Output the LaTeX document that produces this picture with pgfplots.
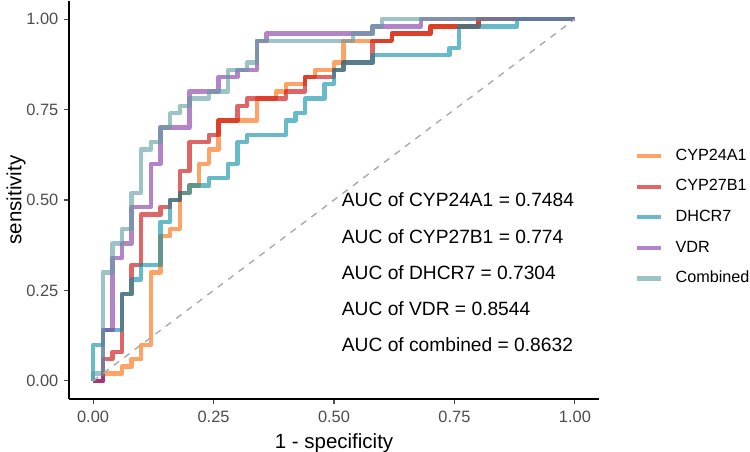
\documentclass[border=0pt]{standalone}
\usepackage{fontspec}
\setmainfont{Liberation Sans}
\usepackage{pgfplots}
\pgfplotsset{compat=1.18}
\definecolor{cOr}{RGB}{255,100,0}
\definecolor{cRd}{RGB}{200,0,0}
\definecolor{cTl}{RGB}{0,140,165}
\definecolor{cPu}{RGB}{130,50,165}
\definecolor{cCb}{RGB}{90,155,160}
\definecolor{tickgray}{RGB}{77,77,77}
\definecolor{diaggray}{RGB}{170,170,170}
\begin{document}
\begin{tikzpicture}
\begin{axis}[
  scale only axis, width=530bp, height=398bp,
  xmin=-0.05, xmax=1.05, ymin=-0.05, ymax=1.05,
  axis lines=left,
  axis line style={-, black, line width=1.1bp},
  xtick={0,0.25,0.5,0.75,1}, xticklabels={0.00,0.25,0.50,0.75,1.00},
  ytick={0,0.25,0.5,0.75,1}, yticklabels={0.00,0.25,0.50,0.75,1.00},
  tick align=outside, major tick length=5bp,
  tick style={tickgray, line width=1.1bp},
  tick label style={font=\fontsize{16.4bp}{19bp}\selectfont, text=tickgray, inner sep=0pt},
  xticklabel shift=6.5bp, yticklabel shift=5.5bp,
  xlabel={1 - specificity}, ylabel={sensitivity},
  label style={font=\fontsize{20.5bp}{24bp}\selectfont, inner sep=0pt},
  x label style={at={(axis description cs:0.5,-0.112)}, anchor=center},
  y label style={at={(axis description cs:-0.1000,0.5)}, anchor=center},
  legend style={draw=none, fill=none, inner sep=0pt, outer sep=0pt,
    at={(axis cs:1.1235,0.6427)}, anchor=north west,
    font=\fontsize{16.2bp}{19bp}\selectfont, row sep=15.1bp, column sep=13bp,
    nodes={inner sep=0pt, text height=12bp, text depth=3.5bp}},
  legend cell align=left,
  legend image code/.code={\draw[#1, line width=4.2bp] (0bp,0bp) -- (24bp,0bp);},
]
\coordinate (pSW) at (axis cs:-0.05,-0.05);
% CYP24A1
\addplot[cOr, line width=4.4bp, opacity=0.6, line join=round] coordinates {
(0,0) (0.02,0) (0.02,0.02) (0.06,0.02) (0.06,0.04) (0.08,0.04) (0.08,0.06) (0.10,0.06) (0.10,0.10) (0.12,0.10) (0.12,0.30) (0.14,0.30) (0.14,0.40) (0.16,0.40) (0.16,0.42) (0.18,0.42) (0.18,0.52) (0.20,0.52) (0.20,0.54) (0.22,0.54) (0.22,0.60) (0.24,0.60) (0.24,0.64) (0.26,0.64) (0.26,0.72) (0.34,0.72) (0.34,0.78) (0.38,0.78) (0.38,0.80) (0.40,0.80) (0.40,0.82) (0.44,0.82) (0.44,0.84) (0.46,0.84) (0.46,0.86) (0.50,0.86) (0.50,0.88) (0.52,0.88) (0.52,0.94) (0.62,0.94) (0.62,0.96) (0.70,0.96) (0.70,0.98) (0.80,0.98) (0.80,1) (1,1)};
\addlegendentry{CYP24A1}
% CYP27B1
\addplot[cRd, line width=4.4bp, opacity=0.6, line join=round] coordinates {
(0,0) (0.02,0) (0.02,0.06) (0.04,0.06) (0.04,0.08) (0.06,0.08) (0.06,0.24) (0.08,0.24) (0.08,0.32) (0.10,0.32) (0.10,0.46) (0.14,0.46) (0.14,0.48) (0.16,0.48) (0.16,0.50) (0.18,0.50) (0.18,0.58) (0.20,0.58) (0.20,0.66) (0.24,0.66) (0.24,0.68) (0.26,0.68) (0.26,0.72) (0.30,0.72) (0.30,0.76) (0.32,0.76) (0.32,0.78) (0.40,0.78) (0.40,0.80) (0.44,0.80) (0.44,0.84) (0.50,0.84) (0.50,0.86) (0.52,0.86) (0.52,0.88) (0.58,0.88) (0.58,0.94) (0.62,0.94) (0.62,0.96) (0.70,0.96) (0.70,0.98) (0.80,0.98) (0.80,1) (1,1)};
\addlegendentry{CYP27B1}
% DHCR7
\addplot[cTl, line width=4.4bp, opacity=0.6, line join=round] coordinates {
(0,0) (0,0.10) (0.02,0.10) (0.02,0.14) (0.06,0.14) (0.06,0.24) (0.08,0.24) (0.08,0.28) (0.10,0.28) (0.10,0.32) (0.14,0.32) (0.14,0.44) (0.16,0.44) (0.16,0.50) (0.18,0.50) (0.18,0.52) (0.20,0.52) (0.20,0.54) (0.24,0.54) (0.24,0.56) (0.28,0.56) (0.28,0.60) (0.30,0.60) (0.30,0.66) (0.32,0.66) (0.32,0.68) (0.40,0.68) (0.40,0.72) (0.42,0.72) (0.42,0.74) (0.44,0.74) (0.44,0.78) (0.48,0.78) (0.48,0.82) (0.50,0.82) (0.50,0.86) (0.52,0.86) (0.52,0.88) (0.58,0.88) (0.58,0.90) (0.74,0.90) (0.74,0.92) (0.76,0.92) (0.76,0.98) (0.88,0.98) (0.88,1) (1,1)};
\addlegendentry{DHCR7}
% VDR
\addplot[cPu, line width=4.4bp, opacity=0.6, line join=round] coordinates {
(0,0) (0.02,0) (0.02,0.14) (0.04,0.14) (0.04,0.34) (0.06,0.34) (0.06,0.38) (0.08,0.38) (0.08,0.48) (0.12,0.48) (0.12,0.60) (0.14,0.60) (0.14,0.70) (0.20,0.70) (0.20,0.80) (0.26,0.80) (0.26,0.84) (0.30,0.84) (0.30,0.86) (0.34,0.86) (0.34,0.94) (0.36,0.94) (0.36,0.96) (0.58,0.96) (0.58,0.98) (0.68,0.98) (0.68,1) (1,1)};
\addlegendentry{VDR}
% Combined
\addplot[cCb, line width=4.4bp, opacity=0.6, line join=round] coordinates {
(0,0) (0,0.02) (0.02,0.02) (0.02,0.30) (0.04,0.30) (0.04,0.38) (0.06,0.38) (0.06,0.42) (0.08,0.42) (0.08,0.52) (0.10,0.52) (0.10,0.64) (0.12,0.64) (0.12,0.66) (0.14,0.66) (0.14,0.70) (0.16,0.70) (0.16,0.74) (0.18,0.74) (0.18,0.76) (0.20,0.76) (0.20,0.78) (0.24,0.78) (0.24,0.80) (0.28,0.80) (0.28,0.86) (0.32,0.86) (0.32,0.88) (0.34,0.88) (0.34,0.94) (0.54,0.94) (0.54,0.96) (0.58,0.96) (0.58,0.98) (0.60,0.98) (0.60,1) (1,1)};
\addlegendentry{Combined}
% diagonal
\addplot[forget plot, diaggray, line width=1.4bp, dash pattern=on 6.5bp off 6.5bp] coordinates {(0,0) (1,1)};
\node[anchor=west, inner sep=0pt, font=\fontsize{19.2bp}{23bp}\selectfont] at (axis cs:0.516,0.5) {AUC of CYP24A1 = 0.7484};
\node[anchor=west, inner sep=0pt, font=\fontsize{19.2bp}{23bp}\selectfont] at (axis cs:0.516,0.4) {AUC of CYP27B1 = 0.774};
\node[anchor=west, inner sep=0pt, font=\fontsize{19.2bp}{23bp}\selectfont] at (axis cs:0.516,0.3) {AUC of DHCR7 = 0.7304};
\node[anchor=west, inner sep=0pt, font=\fontsize{19.2bp}{23bp}\selectfont] at (axis cs:0.516,0.2) {AUC of VDR = 0.8544};
\node[anchor=west, inner sep=0pt, font=\fontsize{19.2bp}{23bp}\selectfont] at (axis cs:0.516,0.1) {AUC of combined = 0.8632};
\end{axis}
\pgfresetboundingbox
\path (pSW) ++(-69bp,-53bp) rectangle ++(750bp,452bp);
\end{tikzpicture}
\end{document}
